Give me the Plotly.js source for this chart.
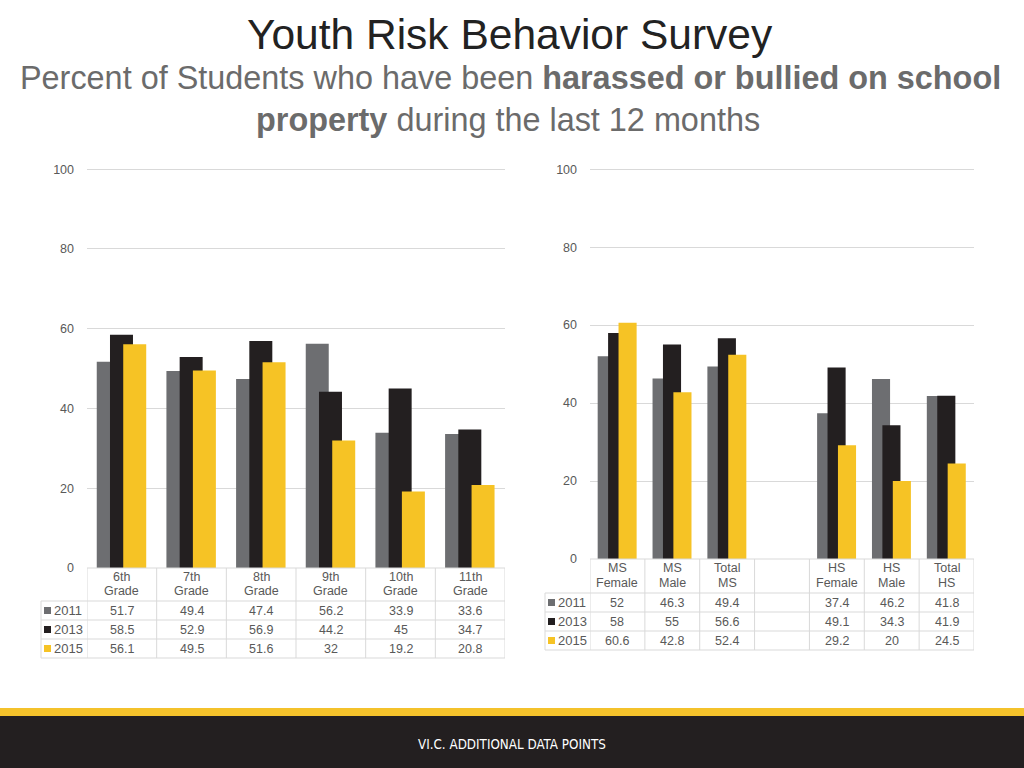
<!DOCTYPE html>
<html>
<head>
<meta charset="utf-8">
<script src="https://cdn.plot.ly/plotly-3.0.1.min.js"></script>
<style>
html,body{margin:0;padding:0;background:#fff;}
#chart{width:1024px;height:768px;}
</style>
</head>
<body>
<div id="chart"></div>
<script>
// ---- data ----
const grades = ['6th Grade','7th Grade','8th Grade','9th Grade','10th Grade','11th Grade'];
const grade2011 = [51.7,49.4,47.4,56.2,33.9,33.6];
const grade2013 = [58.5,52.9,56.9,44.2,45,34.7];
const grade2015 = [56.1,49.5,51.6,32,19.2,20.8];

const groups = ['MS Female','MS Male','Total MS',' ','HS Female','HS Male','Total HS'];
const group2011 = [52,46.3,49.4,null,37.4,46.2,41.8];
const group2013 = [58,55,56.6,null,49.1,34.3,41.9];
const group2015 = [60.6,42.8,52.4,null,29.2,20,24.5];

const years = ['2011','2013','2015'];
const yTicks = [0,20,40,60,80,100];

// ---- style ----
const colors = ['#6d6e71','#231f20','#f6c325'];
const offsets = [-0.36,-0.17,0.02];
const barW = 0.33;
const txt = '#595959';
const lineC = '#d9d9d9';
const W = 1024, H = 768;
const px = v => v / W;
const py = v => 1 - v / H;

const leftSeries = [grade2011, grade2013, grade2015];
const rightSeries = [group2011, group2013, group2015];

const traces = [];
years.forEach((yr, i) => {
  traces.push({type:'bar', x:grades, y:leftSeries[i], name:yr, xaxis:'x', yaxis:'y',
    marker:{color:colors[i]}, offset:offsets[i], width:barW, showlegend:false, hoverinfo:'x+y+name'});
});
years.forEach((yr, i) => {
  traces.push({type:'bar', x:groups, y:rightSeries[i], name:yr, xaxis:'x2', yaxis:'y2',
    marker:{color:colors[i]}, offset:offsets[i], width:barW, showlegend:false, hoverinfo:'x+y+name'});
});

const shapes = [];
const annotations = [];

function hline(x0, x1, y, xref) {
  shapes.push({type:'line', xref:xref||'paper', yref:'paper', x0:x0, x1:x1, y0:py(y), y1:py(y),
    line:{color:lineC, width:1}});
}
function vline(x, y0, y1, xref) {
  shapes.push({type:'line', xref:xref||'paper', yref:'paper', x0:x, x1:x, y0:py(y0), y1:py(y1),
    line:{color:lineC, width:1}});
}

// table builder
function buildTable(cfg) {
  const n = cfg.cats.length;
  hline(px(cfg.plotL), px(cfg.plotR), cfg.top);
  cfg.rows.forEach(r => hline(px(cfg.legL), px(cfg.plotR), r));
  for (let k = 0; k <= n; k++) vline(k - 0.5, cfg.top, cfg.rows[cfg.rows.length-1], cfg.xref);
  vline(px(cfg.legL), cfg.rows[0], cfg.rows[cfg.rows.length-1]);
  cfg.cats.forEach(c => {
    const t = c.trim();
    if (!t) return;
    const sp = t.indexOf(' ');
    const a = t.slice(0, sp), b = t.slice(sp + 1);
    annotations.push({xref:cfg.xref, yref:'paper', x:c, y:py(cfg.hdr1), text:a, showarrow:false,
      font:{size:12.5, color:txt}, yanchor:'middle'});
    annotations.push({xref:cfg.xref, yref:'paper', x:c, y:py(cfg.hdr2), text:b, showarrow:false,
      font:{size:12.5, color:txt}, yanchor:'middle'});
  });
  cfg.series.forEach((s, i) => {
    const yc = (cfg.rows[i] + cfg.rows[i+1]) / 2;
    s.forEach((v, k) => {
      if (v === null) return;
      annotations.push({xref:cfg.xref, yref:'paper', x:cfg.cats[k], y:py(yc), text:String(v),
        showarrow:false, font:{size:12.5, color:txt}, yanchor:'middle'});
    });
    shapes.push({type:'rect', xref:'paper', yref:'paper', x0:px(cfg.legL+3), x1:px(cfg.legL+10),
      y0:py(yc+3.5), y1:py(yc-3.5), fillcolor:colors[i], line:{width:0}});
    annotations.push({xref:'paper', yref:'paper', x:px(cfg.legL+11), y:py(yc), text:years[i],
      showarrow:false, xanchor:'left', yanchor:'middle', font:{size:13, color:txt}});
  });
}

buildTable({cats:grades, series:leftSeries, xref:'x', plotL:87, plotR:505, legL:41,
  top:568, rows:[601,620,639,658], hdr1:577, hdr2:591});
buildTable({cats:groups, series:rightSeries, xref:'x2', plotL:590, plotR:974, legL:545,
  top:559, rows:[593,612,631,650], hdr1:568, hdr2:583});

// footer
shapes.push({type:'rect', xref:'paper', yref:'paper', x0:0, x1:1, y0:py(717), y1:py(708),
  fillcolor:'#f4c22b', line:{width:0}, layer:'below'});
shapes.push({type:'rect', xref:'paper', yref:'paper', x0:0, x1:1, y0:0, y1:py(716),
  fillcolor:'#231f20', line:{width:0}, layer:'below'});
annotations.push({xref:'paper', yref:'paper', x:0.5, y:py(744), text:'VI.C. ADDITIONAL DATA POINTS',
  showarrow:false, yanchor:'middle', font:{family:'DejaVu Sans Condensed, Liberation Sans Narrow, Arial Narrow, sans-serif', size:13.3, color:'#ffffff'}});

// titles
annotations.push({xref:'paper', yref:'paper', x:px(510), y:py(35), text:'Youth Risk Behavior Survey',
  showarrow:false, yanchor:'middle', font:{size:42.5, color:'#222222'}});
annotations.push({xref:'paper', yref:'paper', x:px(510), y:py(78),
  text:'Percent of Students who have been <b>harassed or bullied on school</b>',
  showarrow:false, yanchor:'middle', font:{size:32.4, color:'#6b6b6b'}});
annotations.push({xref:'paper', yref:'paper', x:px(508), y:py(120),
  text:'<b>property</b> during the last 12 months',
  showarrow:false, yanchor:'middle', font:{size:32.4, color:'#6b6b6b'}});

const yax = {range:[0,100.3], tickvals:yTicks, showgrid:true, gridcolor:lineC, gridwidth:1,
  zeroline:false, showline:false, ticks:'', ticklabelstandoff:12, fixedrange:true,
  tickfont:{size:12.5, color:txt}};

const layout = {
  width:W, height:H,
  margin:{l:0, r:0, t:0, b:0},
  paper_bgcolor:'#ffffff', plot_bgcolor:'#ffffff',
  font:{family:'Liberation Sans, Arial, Helvetica, sans-serif', color:txt},
  barmode:'overlay',
  showlegend:false,
  xaxis:{domain:[px(87), px(505)], anchor:'y', type:'category', categoryorder:'array', categoryarray:grades,
    range:[-0.5, grades.length-0.5], showticklabels:false, showgrid:false, zeroline:false, showline:false, ticks:''},
  yaxis:Object.assign({}, yax, {domain:[py(568), py(168)], anchor:'x'}),
  xaxis2:{domain:[px(590), px(974)], anchor:'y2', type:'category', categoryorder:'array', categoryarray:groups,
    range:[-0.5, groups.length-0.5], showticklabels:false, showgrid:false, zeroline:false, showline:false, ticks:''},
  yaxis2:Object.assign({}, yax, {domain:[py(559), py(168)], anchor:'x2'}),
  shapes:shapes,
  annotations:annotations
};

Plotly.newPlot('chart', traces, layout, {displayModeBar:false, staticPlot:true});
</script>
</body>
</html>
